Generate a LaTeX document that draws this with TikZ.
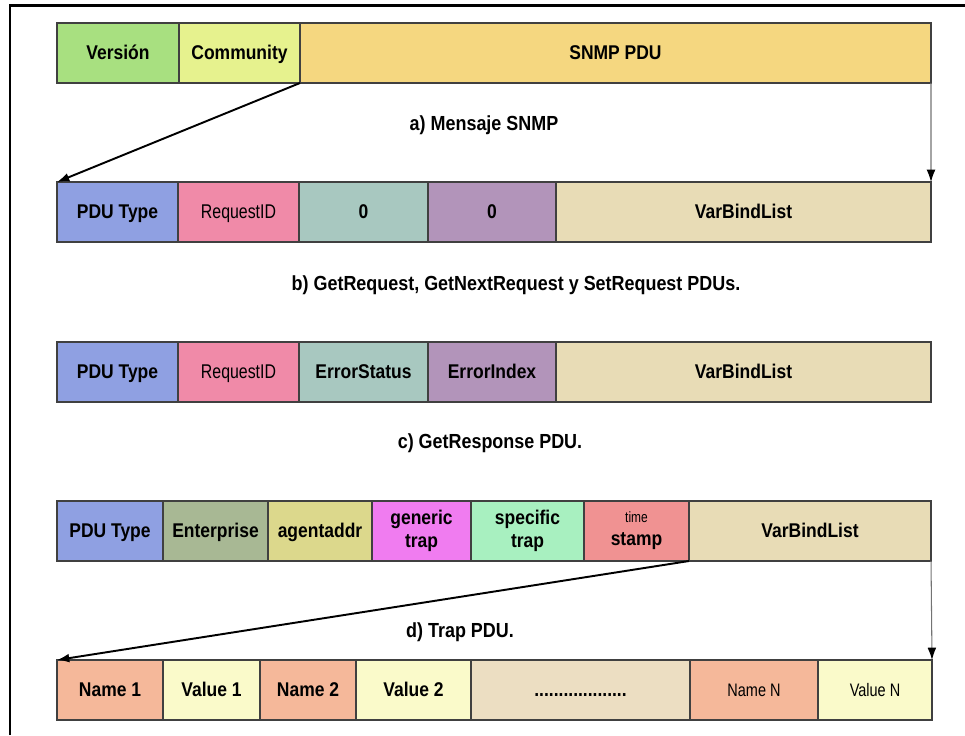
\documentclass[tikz,border=0pt]{standalone}
\usepackage{fontspec}
\setmainfont{Liberation Sans}
\newfontfamily\boxfont{Liberation Sans}[FakeStretch=0.88]
\newfontfamily\narrowfont{Liberation Sans}[FakeStretch=0.8]
\usepackage{tikz}
\usetikzlibrary{positioning,arrows.meta}
\tikzset{>={Latex[length=7pt,width=5pt]}}

\definecolor{cversion}{RGB}{168,224,128}
\definecolor{ccommunity}{RGB}{230,242,142}
\definecolor{csnmp}{RGB}{245,215,128}
\definecolor{ctype}{RGB}{143,160,226}
\definecolor{creq}{RGB}{240,138,168}
\definecolor{cstatus}{RGB}{168,200,192}
\definecolor{cindex}{RGB}{178,148,186}
\definecolor{cvarbind}{RGB}{232,220,182}
\definecolor{centerprise}{RGB}{168,184,148}
\definecolor{cagent}{RGB}{220,216,140}
\definecolor{cgeneric}{RGB}{240,124,240}
\definecolor{cspecific}{RGB}{168,240,192}
\definecolor{ctime}{RGB}{240,146,146}
\definecolor{cname}{RGB}{245,184,154}
\definecolor{cvalue}{RGB}{250,250,202}
\definecolor{cdots}{RGB}{236,222,194}

\tikzset{
  twoline/.style={draw=black!75, line width=0.6pt, inner sep=0pt, outer sep=0pt,
    minimum height=12mm, align=center,
    font=\boxfont\fontsize{11.3}{13}\selectfont\bfseries},
  field/.style={twoline, text height=0.9em, text depth=0.18em},
  thinfield/.style={field, font=\narrowfont\mdseries\fontsize{11.3}{13}\selectfont},
  smallfield/.style={field, font=\narrowfont\mdseries\fontsize{10.3}{12}\selectfont},
  caption/.style={font=\boxfont\fontsize{11.6}{13}\selectfont\bfseries},
  link/.style={->, line width=1.1pt},
  drop/.style={-{Latex[length=7pt,width=5pt,color=black]}, draw=black!55, line width=0.6pt},
}

\begin{document}
\begin{tikzpicture}[x=0.2mm,y=-0.2mm]
      \useasboundingbox (0,0) rectangle (965,735);
      \draw[line width=1.7pt] (10,735) -- (10,5) -- (965,5);

      % a) mensaje
      \node[field, fill=cversion, minimum width=24.4mm, anchor=north west] (ver) at (57,23) {Versión};
      \node[field, fill=ccommunity, minimum width=24.2mm, right=0pt of ver] (com) {Community};
      \node[field, fill=csnmp, minimum width=126.2mm, right=0pt of com] (pdu) {SNMP PDU};
      \node[caption] (capa) at (484,125) {a) Mensaje SNMP};

      % b) get / set
      \node[field, fill=ctype, minimum width=24.2mm, anchor=north west] (typeb) at (57,182) {PDU Type};
      \node[thinfield, fill=creq, minimum width=24.2mm, right=0pt of typeb] (reqb) {RequestID};
      \node[field, fill=cstatus, minimum width=25.8mm, right=0pt of reqb] (statb) {0};
      \node[field, fill=cindex, minimum width=25.6mm, right=0pt of statb] (idxb) {0};
      \node[field, fill=cvarbind, minimum width=75mm, right=0pt of idxb] (varb) {VarBindList};
      \node[caption] (capb) at (516,285) {b) GetRequest, GetNextRequest y SetRequest PDUs.};

      % c) response
      \node[field, fill=ctype, minimum width=24.2mm, anchor=north west] (typec) at (57,342) {PDU Type};
      \node[thinfield, fill=creq, minimum width=24.2mm, right=0pt of typec] (reqc) {RequestID};
      \node[field, fill=cstatus, minimum width=25.8mm, right=0pt of reqc] (statc) {ErrorStatus};
      \node[field, fill=cindex, minimum width=25.6mm, right=0pt of statc] (idxc) {ErrorIndex};
      \node[field, fill=cvarbind, minimum width=75mm, right=0pt of idxc] (varc) {VarBindList};
      \node[caption] (capc) at (490,443) {c) GetResponse PDU.};

      % d) trap
      \node[field, fill=ctype, minimum width=21.2mm, anchor=north west] (typed) at (57,501) {PDU Type};
      \node[field, fill=centerprise, minimum width=21mm, right=0pt of typed] (entd) {Enterprise};
      \node[field, fill=cagent, minimum width=20.8mm, right=0pt of entd] (agentd) {agentaddr};
      \node[twoline, fill=cgeneric, minimum width=19.8mm, right=0pt of agentd] (gend) {generic\\trap};
      \node[twoline, fill=cspecific, minimum width=22.6mm, right=0pt of gend] (specd) {specific\\trap};
      \node[twoline, fill=ctime, minimum width=21mm, right=0pt of specd] (timed)
        {{\narrowfont\mdseries\fontsize{8.5}{10}\selectfont time}\\stamp};
      \node[field, fill=cvarbind, minimum width=48.4mm, right=0pt of timed] (vard) {VarBindList};
      \node[caption] (capd) at (460,632) {d) Trap PDU.};

      % varbind list
      \node[field, fill=cname, minimum width=21.2mm, anchor=north west] (namea) at (57,660) {Name 1};
      \node[field, fill=cvalue, minimum width=19.4mm, right=0pt of namea] (vala) {Value 1};
      \node[field, fill=cname, minimum width=19.2mm, right=0pt of vala] (nameb) {Name 2};
      \node[field, fill=cvalue, minimum width=23mm, right=0pt of nameb] (valb) {Value 2};
      \node[field, fill=cdots, minimum width=43.8mm, right=0pt of valb] (dots) {...................};
      \node[smallfield, fill=cname, minimum width=25.6mm, right=0pt of dots] (namen) {Name N};
      \node[smallfield, fill=cvalue, minimum width=22.8mm, right=0pt of namen] (valn) {Value N};

      \draw[link] (com.south east) -- (typeb.north west);
      \draw[drop] (pdu.south east) -- (varb.north east);
      \draw[link] (timed.south east) -- (namea.north west);
      \draw[drop] (vard.south east) -- (valn.north east);
\end{tikzpicture}
\end{document}
